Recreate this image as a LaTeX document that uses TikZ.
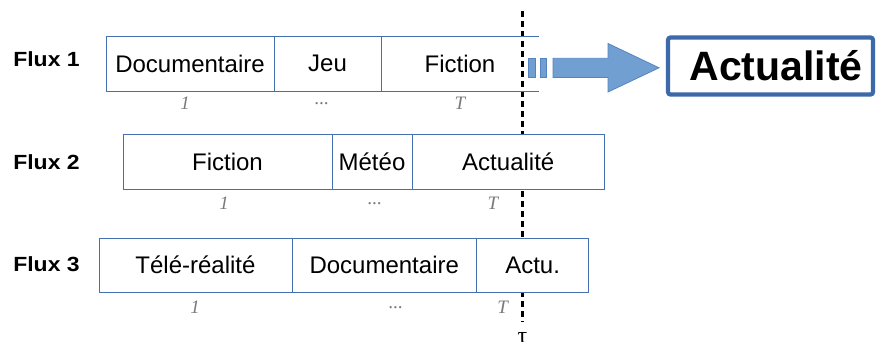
\documentclass[tikz,border=0pt]{standalone}
\usepackage{fontspec}
\setmainfont{Liberation Sans}
\newfontfamily\idxfont{Liberation Serif}
\usetikzlibrary{calc}
\definecolor{segblue}{HTML}{4470B2}
\definecolor{arrfill}{HTML}{729FD2}
\definecolor{arrline}{HTML}{5583C0}
\definecolor{boxblue}{HTML}{3C69A9}
\definecolor{idxgray}{HTML}{7A7A7A}
\tikzset{
  seg/.style={draw=segblue, fill=white, line width=0.9pt, rectangle, inner sep=0pt, outer sep=0pt, font=\fontsize{24}{27}\selectfont},
  segopen/.style={rectangle, inner sep=0pt, outer sep=0pt, font=\fontsize{24}{27}\selectfont},
  idx/.style={inner sep=0pt, text=idxgray, font=\idxfont\itshape\fontsize{19}{21}\selectfont},
  fluxlbl/.style={inner sep=0pt, font=\bfseries\fontsize{20.5}{22}\selectfont},
  cutline/.style={line width=3.2pt, dash pattern=on 6pt off 4pt},
  bigarrow/.style={fill=arrfill, draw=arrline, line width=0.8pt},
}
\begin{document}
\begin{tikzpicture}[x=1pt,y=-1pt]
\useasboundingbox (0,0) rectangle (877,342);
\clip (0,0) rectangle (877,342);
% cut line (drawn first: the boxes of Flux 2 and 3 hide it)
\coordinate (ctop) at (522.5,11);
\coordinate (cbot) at (522.5,322);
\draw[cutline] (ctop) -- (cbot);
\node[anchor=north, inner sep=0pt, font=\idxfont\fontsize{24}{26}\selectfont] (tau) at (522.5,332) {τ};
% Flux labels
\node[fluxlbl] (f1) at (46.5,58.7) {\scalebox{1.12}[1]{Flux 1}};
\node[fluxlbl] (f2) at (46.5,162.5) {\scalebox{1.12}[1]{Flux 2}};
\node[fluxlbl] (f3) at (46.5,264.2) {\scalebox{1.12}[1]{Flux 3}};
% Flux 1
\node[seg, fill=none, minimum width=168pt, minimum height=55.5pt] (a1) at (190,63.75) {Documentaire};
\node[seg, fill=none, minimum width=107pt, minimum height=55.5pt] (a2) at (327.5,63.75) {Jeu};
\node[segopen, minimum width=158pt, minimum height=55.5pt] (a3) at (460,63.75) {Fiction};
\draw[segblue, line width=0.9pt] (a3.north west) -- (a3.north east);
\draw[segblue, line width=0.9pt] (a3.south west) -- (a3.south east);
\node[idx] (a1i) at (185,103) {1};
\node[idx] (a2i) at (322,104) {...};
\node[idx] (a3i) at (460,103) {T};
% Flux 2
\node[seg, minimum width=209pt, minimum height=54.5pt] (b1) at (227.5,161.75) {Fiction};
\node[seg, minimum width=80pt, minimum height=54.5pt] (b2) at (372,161.75) {Météo};
\node[seg, minimum width=192.5pt, minimum height=54.5pt] (b3) at (508.25,161.75) {Actualité};
\node[idx] (b1i) at (224,203) {1};
\node[idx] (b2i) at (375,204) {...};
\node[idx] (b3i) at (493,203) {T};
% Flux 3
\node[seg, minimum width=193pt, minimum height=54.3pt] (c1) at (195.5,265.15) {Télé-réalité};
\node[seg, minimum width=184.5pt, minimum height=54.3pt] (c2) at (384.25,265.15) {Documentaire};
\node[seg, minimum width=112.2pt, minimum height=54.3pt] (c3) at (532.6,265.15) {Actu.};
\node[idx] (c1i) at (195,307) {1};
\node[idx] (c2i) at (396,308) {...};
\node[idx] (c3i) at (502.7,307) {T};
% arrow
\draw[bigarrow] (528.5,58.3) rectangle (535,77.5);
\draw[bigarrow] (540.5,58.3) rectangle (546.5,77.5);
\draw[bigarrow] (553,58.3) -- (608,58.3) -- (608,43.5) -- (659,67.8) -- (608,92) -- (608,77.5) -- (553,77.5) -- cycle;
% result box
\node[draw=boxblue, line width=4.2pt, rounded corners=2.5pt, minimum width=205pt, minimum height=57pt, inner sep=0pt, font=\bfseries\fontsize{41}{46}\selectfont] (res) at (770.5,66) {\hspace*{11pt}Actualité};
\end{tikzpicture}
\end{document}
